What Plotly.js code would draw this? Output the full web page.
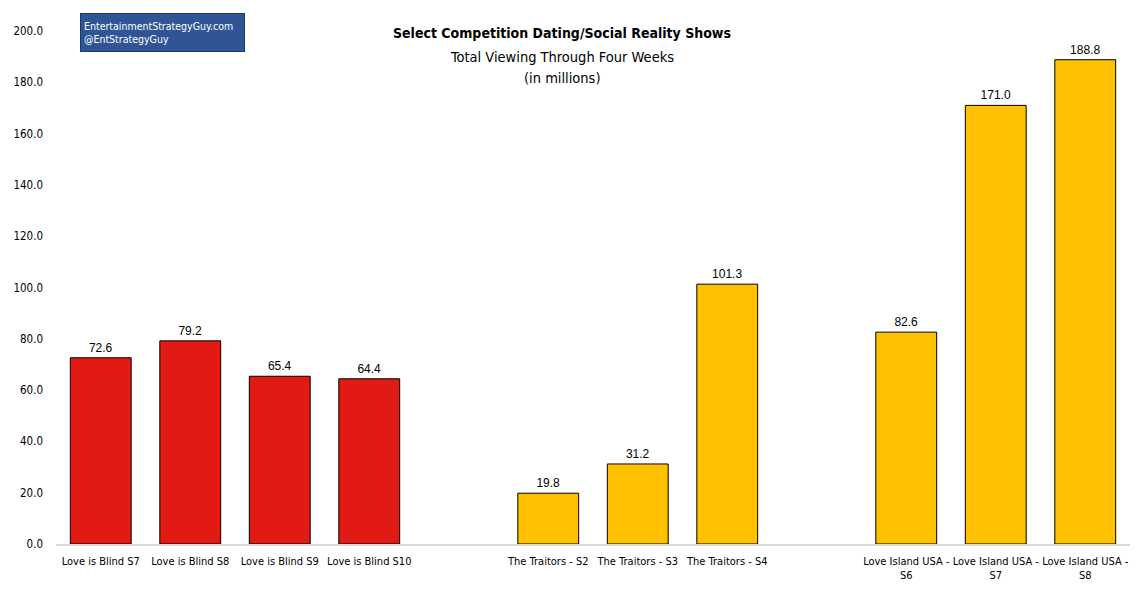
<!DOCTYPE html>
<html>
<head>
<meta charset="utf-8">
<script src="https://cdn.plot.ly/plotly-3.0.1.min.js"></script>
<style>
  html,body{margin:0;padding:0;background:#fff}
  #chart{width:1136px;height:601px}
</style>
</head>
<body>
<div id="chart"></div>
<script>
"use strict"

const loveIsBlind = ["Love is Blind S7","Love is Blind S8","Love is Blind S9","Love is Blind S10"]
const loveIsBlindViews = [72.6, 79.2, 65.4, 64.4]

const traitors = ["The Traitors - S2","The Traitors - S3","The Traitors - S4"]
const traitorsViews = [19.8, 31.2, 101.3]

const loveIsland = ["Love Island USA -<br>S6","Love Island USA -<br>S7","Love Island USA -<br>S8"]
const loveIslandViews = [82.6, 171.0, 188.8]

const yTicks = [0,20,40,60,80,100,120,140,160,180,200]

// empty slots between the show groups
const order = [].concat(loveIsBlind, [" "], traitors, ["  "], loveIsland)

const condensed = '"DejaVu Sans Condensed", "Liberation Sans Narrow", "DejaVu Sans", sans-serif'

const barTrace = (x, y, color) => ({
  x: x,
  y: y,
  type: "bar",
  marker: {color: color, line: {color: "#000", width: 1}},
  text: y.map(v => v.toFixed(1)),
  textposition: "outside",
  textfont: {family: "Liberation Sans, Arial, sans-serif", size: 12, color: "#000"},
  cliponaxis: false,
  hoverinfo: "x+y",
})

const data = [
  barTrace(loveIsBlind, loveIsBlindViews, "#E21A14"),
  barTrace(traitors, traitorsViews, "#FFC000"),
  barTrace(loveIsland, loveIslandViews, "#FFC000"),
]

const note = (y, text, size) => ({
  xref: "paper", yref: "paper", x: 0.4715, y: y, xanchor: "center", yanchor: "middle",
  text: text,
  showarrow: false,
  font: {family: condensed, size: size, color: "#000"},
})

const layout = {
  width: 1136,
  height: 601,
  showlegend: false,
  barmode: "overlay",
  bargap: 0.32,
  paper_bgcolor: "#fff",
  plot_bgcolor: "#fff",
  margin: {l: 56, r: 6, t: 31, b: 57, pad: 0},
  font: {family: condensed, size: 12, color: "#000"},
  xaxis: {
    type: "category",
    categoryorder: "array",
    categoryarray: order,
    showgrid: false,
    showline: true,
    linecolor: "#d9d9d9",
    linewidth: 1.5,
    ticks: "",
    tickangle: 0,
    ticklabelstandoff: 6,
    tickfont: {family: condensed, size: 11, color: "#000"},
    zeroline: false,
    fixedrange: true,
  },
  yaxis: {
    range: [0, 200],
    tickvals: yTicks,
    ticktext: yTicks.map(v => v.toFixed(1)),
    showgrid: false,
    showline: false,
    zeroline: false,
    ticks: "",
    ticklabelstandoff: 12,
    tickfont: {family: condensed, size: 11.5, color: "#000"},
    fixedrange: true,
  },
  annotations: [
    note(0.996, "<b>Select Competition Dating/Social Reality Shows</b>", 14),
    note(0.949, "Total Viewing Through Four Weeks", 14.5),
    note(0.908, "(in millions)", 14.5),
    {
      xref: "paper", yref: "paper", x: 0.0223, y: 1.035, xanchor: "left", yanchor: "top",
      text: "EntertainmentStrategyGuy.com<br>@EntStrategyGuy",
      align: "left",
      valign: "middle",
      showarrow: false,
      bgcolor: "#2F5597",
      bordercolor: "#1F3864",
      borderwidth: 1,
      borderpad: 3,
      width: 157,
      height: 31,
      font: {family: condensed, size: 10.5, color: "#fff"},
    },
  ],
}

Plotly.newPlot("chart", data, layout, {displayModeBar: false, staticPlot: true})
</script>
</body>
</html>
